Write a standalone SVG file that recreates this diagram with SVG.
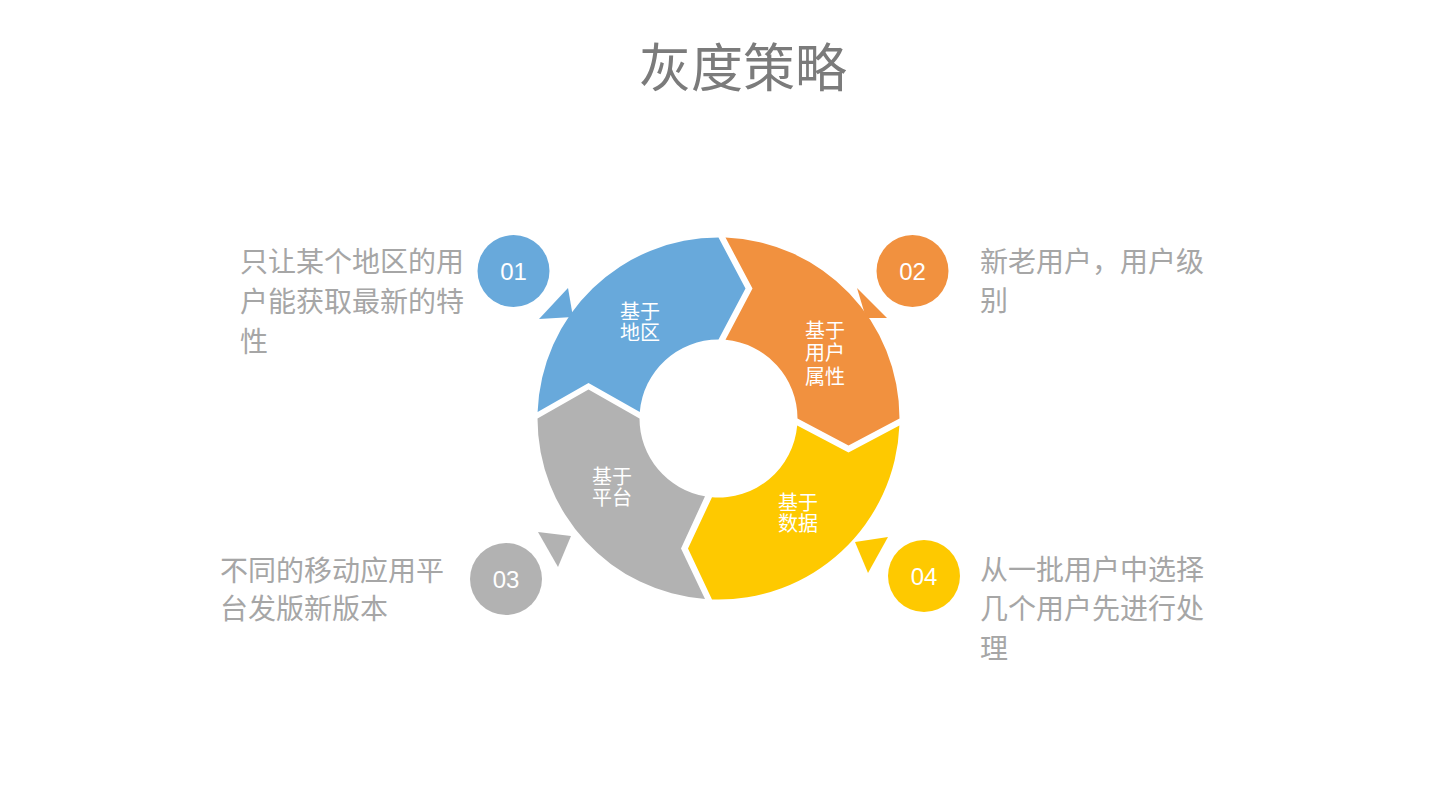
<svg xmlns="http://www.w3.org/2000/svg" width="1440" height="810" viewBox="0 0 1440 810">
<style>
.title{font-family:"Liberation Sans","Noto Sans CJK SC",sans-serif;font-size:52px;fill:#7b7b7b;text-anchor:middle}
.desc{font-family:"Liberation Sans","Noto Sans CJK SC",sans-serif;font-size:28px;fill:#a6a6a6}
.seg{font-family:"Liberation Sans","Noto Sans CJK SC",sans-serif;font-size:20px;fill:#ffffff;text-anchor:middle}
.num{font-family:"Liberation Sans","Noto Sans CJK SC",sans-serif;font-size:24px;fill:#ffffff;text-anchor:middle}
.blue{fill:#68a9db}
.orange{fill:#f1913f}
.gray{fill:#b2b2b2}
.yellow{fill:#fec900}
</style>
<rect width="1440" height="810" fill="#ffffff"/>
<text class="title" x="743" y="87">灰度策略</text>

<g id="connectors">
  <polygon class="blue" points="539,319 568,288 573,317"/>
  <polygon class="orange" points="857,288 887,318 866,318"/>
  <polygon class="gray" points="538,532 571,536 558,567"/>
  <polygon class="yellow" points="855,542 888,537 868,573"/>
</g>

<g id="seg-region">
  <path class="blue" d="M 537.6,412 A 181 181 0 0 1 718.5,237.5 L 745.5,288.5 L 718.5,339.5 A 79 79 0 0 0 639.8,412 L 588.5,383 Z"/>
  <text class="seg" x="640" y="319">基于</text>
  <text class="seg" x="640" y="340">地区</text>
</g>
<g id="seg-user">
  <path class="orange" d="M 725.5,237.6 A 181 181 0 0 1 899.5,418.5 L 848.5,445.5 L 797.5,418.5 A 79 79 0 0 0 725.5,339.8 L 752.5,288.5 Z"/>
  <text class="seg" x="825" y="338">基于</text>
  <text class="seg" x="825" y="360">用户</text>
  <text class="seg" x="825" y="384">属性</text>
</g>
<g id="seg-data">
  <path class="yellow" d="M 899.4,425.5 A 181 181 0 0 1 712,599.4 L 688,548.5 L 712,497.2 A 79 79 0 0 0 797.2,425.5 L 848.5,452.5 Z"/>
  <text class="seg" x="798" y="510">基于</text>
  <text class="seg" x="798" y="531">数据</text>
</g>
<g id="seg-platform">
  <path class="gray" d="M 705,599 A 181 181 0 0 1 537.5,418.5 L 588.5,389.5 L 639.5,418.5 A 79 79 0 0 0 705,496.3 L 681,548.5 Z"/>
  <text class="seg" x="612" y="484">基于</text>
  <text class="seg" x="612" y="505">平台</text>
</g>

<g id="n01">
  <circle class="blue" cx="513.5" cy="271" r="36"/>
  <text class="num" x="513.5" y="279.5">01</text>
  <text class="desc" x="240" y="272">只让某个地区的用</text>
  <text class="desc" x="240" y="312">户能获取最新的特</text>
  <text class="desc" x="240" y="352">性</text>
</g>
<g id="n02">
  <circle class="orange" cx="912.5" cy="271" r="36"/>
  <text class="num" x="912.5" y="279.5">02</text>
  <text class="desc" x="980" y="272">新老用户，用户级</text>
  <text class="desc" x="980" y="311">别</text>
</g>
<g id="n03">
  <circle class="gray" cx="506" cy="579" r="36"/>
  <text class="num" x="506" y="587.5">03</text>
  <text class="desc" x="220" y="581">不同的移动应用平</text>
  <text class="desc" x="220" y="619">台发版新版本</text>
</g>
<g id="n04">
  <circle class="yellow" cx="924" cy="576" r="36"/>
  <text class="num" x="924" y="584.5">04</text>
  <text class="desc" x="980" y="580">从一批用户中选择</text>
  <text class="desc" x="980" y="619">几个用户先进行处</text>
  <text class="desc" x="980" y="659">理</text>
</g>
</svg>
